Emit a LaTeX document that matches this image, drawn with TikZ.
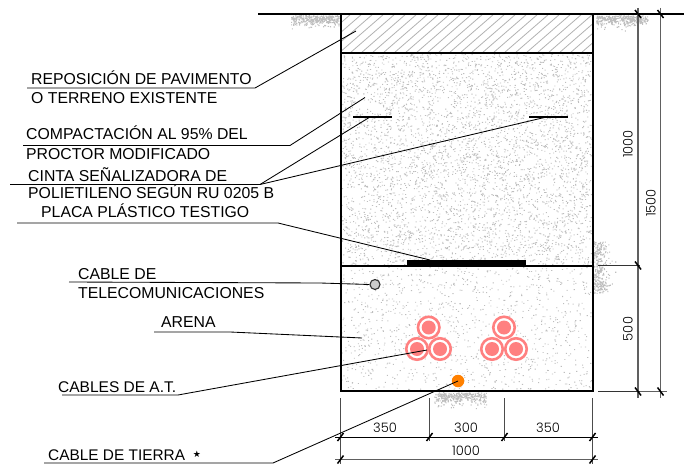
\documentclass[tikz,border=0pt]{standalone}
\usepackage{fontspec}
\setmainfont{Liberation Sans}
\newfontfamily\dimfont{Poppins Light}
\newfontfamily\symfont{DejaVu Sans}
\definecolor{rojo}{HTML}{FF8080}
\definecolor{naranja}{HTML}{FF8000}
\definecolor{gristel}{HTML}{CCCCCC}
\definecolor{dot}{HTML}{BEBEBE}
\definecolor{dimgris}{HTML}{606060}
\tikzset{
  lbl/.style={anchor=base west,inner sep=0pt,font=\fontsize{15.8}{17}\selectfont,text=black},
  dimtxt/.style={inner sep=0pt,font=\dimfont\fontsize{13}{14}\selectfont,text=black},
  leader/.style={draw=black,line width=0.85pt},
  wall/.style={draw=black,line width=2pt},
  dimv/.style={draw=dimgris,line width=1.2pt},
  dimk/.style={draw=black!70,line width=1pt},
  tickm/.style={draw=black,line width=1.5pt},
  cabler/.style={circle,draw=rojo,line width=2.6pt,fill=white,minimum size=21.5pt,inner sep=0pt},
  cablec/.style={circle,fill=rojo,minimum size=14pt,inner sep=0pt},
}
\begin{document}
\begin{tikzpicture}[x=1pt,y=-1pt]
\useasboundingbox (0,0) rectangle (684,465);
\pgfmathsetseed{4217}
% hatch
\begin{scope}
\clip (340,14) rectangle (592,53);
\foreach \k in {0,11,...,310}
  \draw[gray!60,line width=0.8pt] ({340+\k-45},53) -- ({340+\k},14);
\end{scope}
% stipple
\fill[dot] \foreach \i in {1,...,4600}{({341+250*rnd},{54+211*rnd}) rectangle ++(1.1,0.9)};
\fill[dot] \foreach \i in {1,...,1100}{({341+250*rnd},{267+124*rnd}) rectangle ++(1.1,0.9)};
% soil tufts
\fill[dot] \foreach \i in {1,...,320}{({291+48*rnd},{15+9*rnd*rnd+9*rnd*rnd}) rectangle ++(1.1,1.1)};
\fill[dot] \foreach \i in {1,...,320}{({596+52*rnd},{15+9*rnd*rnd+9*rnd*rnd}) rectangle ++(1.1,1.1)};
\fill[dot] \foreach \i in {1,...,320}{({592+20*rnd*rnd+8*rnd*rnd},{241+52*rnd}) rectangle ++(1.1,1.1)};
\fill[dot] \foreach \i in {1,...,320}{({434+52*rnd},{392+9*rnd*rnd+12*rnd*rnd}) rectangle ++(1.1,1.1)};
% structure
\draw[black,line width=2pt] (258,14) -- (684,14);
\draw[wall] (340.5,14) -- (340.5,391) -- (592.5,391) -- (592.5,14);
\draw[wall,line width=1.6pt] (340.5,53) -- (592.5,53);
\draw[wall] (340.5,265.5) -- (592.5,265.5);
\draw[black!80,line width=1.6pt] (598,265.5) -- (640,265.5);
\draw[black!80,line width=1.6pt] (598,391.5) -- (640,391.5);
\draw[dimgris,line width=1pt] (640,391.5) -- (667,391.5);
\fill[black] (407,260) rectangle (526,265.5);
% dimensions
\draw[dimv] (638,8) -- (638,398);
\draw[dimv] (660.5,8) -- (660.5,398);
\draw[dimk] (340.5,398) -- (340.5,464);
\draw[dimk] (592.5,398) -- (592.5,464);
\draw[dimk] (429.5,398) -- (429.5,441);
\draw[dimk] (504.5,398) -- (504.5,441);
\draw[black,line width=0.9pt] (335,437) -- (598,437);
\draw[dimgris,line width=1pt] (335,459.5) -- (598,459.5);
\foreach \px/\py in {638/14,660.5/14,638/265.5,638/391.5,660.5/391.5}
  \draw[tickm] (\px-3,\py-4) -- (\px+3,\py+4);
\foreach \px/\py in {340.5/437,429.5/437,504.5/437,592.5/437,340.5/459.5,592.5/459.5}
  \draw[tickm] (\px-3,\py+4) -- (\px+3,\py-4);
\node[dimtxt] (d1) at (385,428) {350};
\node[dimtxt] (d2) at (466,428) {300};
\node[dimtxt] (d3) at (548,428) {350};
\node[dimtxt] (d4) at (466,451) {1000};
\node[dimtxt,rotate=90] (d5) at (628,144) {1000};
\node[dimtxt,rotate=90] (d6) at (651,203) {1500};
\node[dimtxt,rotate=90] (d7) at (628,329) {500};
% cables
\foreach \nm/\cx/\cy in {a/428.7/327.5,b/417/349,c/440/349,d/504/327.5,e/492/349,f/516/349}{
  \node[cabler] (r\nm) at (\cx,\cy) {};
  \node[cablec] (n\nm) at (\cx,\cy) {};
}
\node[circle,draw=black!80,fill=gristel,line width=1.1pt,minimum size=10pt,inner sep=0pt] (tele) at (375,284.5) {};
\node[circle,fill=naranja,minimum size=12.5pt,inner sep=0pt] (tierra) at (458,381) {};
% leader targets
\coordinate (t1) at (356,31);
\coordinate (t2) at (365,97.5);
\coordinate (m1) at (370,117);
\coordinate (m2) at (546.5,117);
\coordinate (t3) at (430,260);
\coordinate (t5) at (362,338);
\coordinate (t6) at (427,350);
% labels
\node[lbl] (l1) at (31,84.5) {REPOSICIÓN DE PAVIMENTO};
\node[lbl] (l1b) at (31,104) {O TERRENO EXISTENTE};
\node[lbl] (l2) at (26,140) {COMPACTACIÓN AL 95\% DEL};
\node[lbl] (l2b) at (26,160) {PROCTOR MODIFICADO};
\node[lbl] (l3) at (28,181) {CINTA SEÑALIZADORA DE};
\node[lbl] (l3b) at (28,198) {POLIETILENO SEGÚN RU 0205 B};
\node[lbl] (l4) at (41,217) {PLACA PLÁSTICO TESTIGO};
\node[lbl] (l5) at (78,279) {CABLE DE};
\node[lbl] (l5b) at (78,298) {TELECOMUNICACIONES};
\node[lbl] (l6) at (161,327) {ARENA};
\node[lbl,font=\fontsize{15.5}{17}\selectfont] (l7) at (58,392) {CABLES DE A.T.};
\node[lbl,font=\fontsize{15.4}{17}\selectfont] (l8) at (48,460) {CABLE DE TIERRA};
\node[inner sep=0pt,font=\symfont\fontsize{9}{9}\selectfont] (st) at (197,454.5) {★};
% leaders
\coordinate (s1) at (27,88);   \coordinate (k1) at (255,88);
\coordinate (s2) at (23,145.5);\coordinate (k2) at (290,145.5);
\coordinate (s3) at (10,184.5);\coordinate (k3) at (260,184.5);
\coordinate (s4) at (17,223);  \coordinate (k4) at (278,223);
\coordinate (s5) at (69,282);  \coordinate (k5) at (320,283);
\coordinate (s6) at (154,332); \coordinate (k6) at (230,332);
\coordinate (s7) at (62,395);  \coordinate (k7) at (178,395);
\coordinate (s8) at (44,463);  \coordinate (k8) at (273,463);
\draw[leader] (s1) -- (k1) -- (t1);
\draw[leader] (s2) -- (k2) -- (t2);
\draw[leader] (s3) -- (k3) -- (m1);
\draw[leader] (k3) -- (m2);
\draw[leader] (s4) -- (k4) -- (t3);
\draw[leader] (s5) -- (k5) -- (tele.west);
\draw[leader] (s6) -- (k6) -- (t5);
\draw[leader] (s7) -- (k7) -- (t6);
\draw[leader] (s8) -- (k8) -- (tierra.center);
\draw[leader,line width=1.2pt] (353,117) -- (m1) -- (392,117);
\draw[leader,line width=1.2pt] (529,117) -- (m2) -- (568,117);
\end{tikzpicture}
\end{document}
